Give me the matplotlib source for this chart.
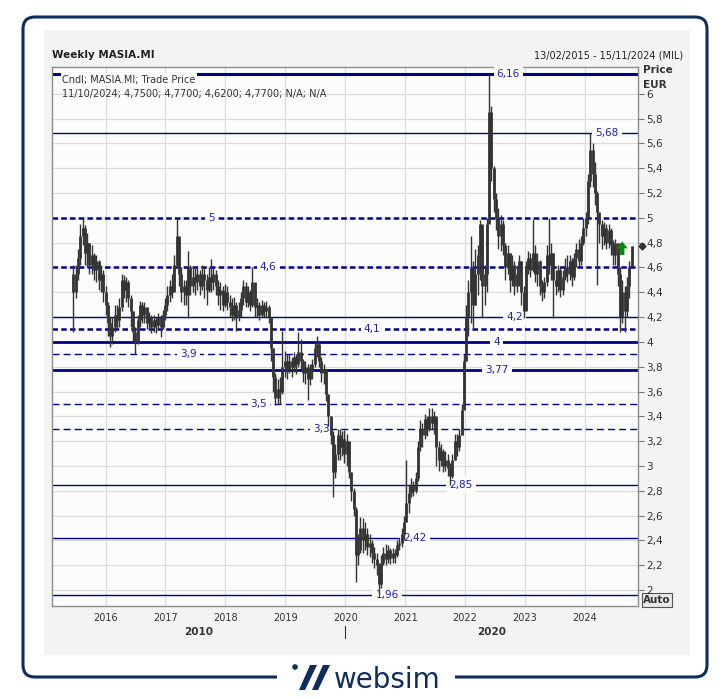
import numpy as np
import pandas as pd
import matplotlib
matplotlib.use("Agg")
import matplotlib.pyplot as plt
import matplotlib.transforms as mtransforms
from matplotlib.patches import FancyBboxPatch, Rectangle, Polygon, Circle

# ---------------------------------------------------------------------------
# DATA - MASIA.MI trade price (EUR), bars
# (one bar every two weeks, first bar 19/06/2015, last bar 11/10/2024)
# ---------------------------------------------------------------------------
first_bar = "2015-06-19"
first_open = 4.55

close_2015 = [4.40, 4.55, 4.68, 4.85, 4.92, 4.72, 4.80, 4.62, 4.70, 4.58, 4.65, 4.50, 4.55, 4.40]
high_2015 = [4.62, 4.62, 4.75, 4.95, 5.00, 4.94, 4.88, 4.80, 4.78, 4.72, 4.70, 4.66, 4.62, 4.58]
low_2015 = [4.08, 4.35, 4.50, 4.62, 4.78, 4.62, 4.60, 4.55, 4.55, 4.50, 4.48, 4.42, 4.40, 4.32]

close_2016 = [4.30, 4.15, 4.05, 4.12, 4.22, 4.18, 4.28, 4.50, 4.42, 4.48, 4.35, 4.25, 4.08,
              4.00, 4.18, 4.30, 4.22, 4.28, 4.15, 4.20, 4.12, 4.18, 4.14, 4.20, 4.12, 4.22]
high_2016 = [4.45, 4.32, 4.20, 4.20, 4.30, 4.30, 4.35, 4.55, 4.54, 4.52, 4.50, 4.38, 4.25,
             4.12, 4.22, 4.33, 4.32, 4.32, 4.28, 4.24, 4.22, 4.22, 4.20, 4.23, 4.22, 4.26]
low_2016 = [4.22, 4.05, 3.96, 3.98, 4.08, 4.10, 4.12, 4.25, 4.35, 4.32, 4.28, 4.12, 4.00,
            3.90, 3.98, 4.12, 4.15, 4.15, 4.10, 4.10, 4.07, 4.08, 4.07, 4.10, 4.04, 4.10]

close_2017 = [4.30, 4.38, 4.45, 4.40, 4.62, 4.85, 4.55, 4.40, 4.45, 4.38, 4.60, 4.45, 4.52,
              4.48, 4.55, 4.45, 4.55, 4.50, 4.42, 4.52, 4.48, 4.55, 4.45, 4.38, 4.42, 4.30]
high_2017 = [4.35, 4.45, 4.50, 4.55, 4.70, 5.01, 4.80, 4.60, 4.50, 4.50, 4.73, 4.62, 4.60,
             4.60, 4.60, 4.58, 4.62, 4.60, 4.55, 4.60, 4.67, 4.60, 4.58, 4.50, 4.48, 4.45]
low_2017 = [4.18, 4.25, 4.32, 4.35, 4.45, 4.60, 4.45, 4.32, 4.30, 4.30, 4.19, 4.38, 4.40,
            4.38, 4.42, 4.38, 4.42, 4.35, 4.30, 4.40, 4.40, 4.42, 4.38, 4.30, 4.26, 4.25]

close_2018 = [4.40, 4.32, 4.28, 4.22, 4.30, 4.20, 4.26, 4.35, 4.45, 4.32, 4.40, 4.30, 4.48,
              4.28, 4.30, 4.22, 4.30, 4.25, 4.28, 4.20, 3.95, 3.72, 3.55, 3.62, 3.60, 3.80]
high_2018 = [4.47, 4.45, 4.38, 4.35, 4.36, 4.32, 4.32, 4.40, 4.50, 4.48, 4.45, 4.42, 4.60,
             4.45, 4.35, 4.32, 4.34, 4.32, 4.33, 4.30, 4.20, 3.95, 3.75, 3.70, 3.72, 4.09]
low_2018 = [4.28, 4.26, 4.20, 4.17, 4.18, 4.09, 4.17, 4.20, 4.30, 4.28, 4.28, 4.25, 4.28,
            4.20, 4.20, 4.18, 4.20, 4.20, 4.20, 4.15, 3.85, 3.60, 3.49, 3.50, 3.50, 3.58]

close_2019 = [3.85, 3.78, 3.85, 3.80, 3.88, 3.82, 3.92, 3.85, 3.75, 3.80, 3.70, 3.78, 3.82,
              3.95, 3.98, 3.85, 3.75, 3.78, 3.58, 3.40, 3.25, 2.95, 3.10, 3.25, 3.15, 3.22]
high_2019 = [3.93, 3.90, 3.90, 3.88, 3.92, 3.90, 4.08, 4.02, 3.86, 3.85, 3.82, 3.82, 3.86,
             4.00, 4.05, 4.00, 3.88, 3.82, 3.78, 3.58, 3.40, 3.28, 3.18, 3.30, 3.30, 3.28]
low_2019 = [3.72, 3.70, 3.75, 3.72, 3.76, 3.74, 3.80, 3.78, 3.68, 3.66, 3.53, 3.65, 3.70,
            3.80, 3.88, 3.80, 3.68, 3.66, 3.52, 3.32, 3.18, 2.75, 2.90, 3.05, 3.05, 3.08]

close_2020 = [3.10, 3.20, 2.95, 2.80, 2.65, 2.28, 2.32, 2.50, 2.40, 2.45, 2.35, 2.38, 2.30,
              2.25, 2.20, 2.05, 2.22, 2.30, 2.25, 2.32, 2.26, 2.30, 2.28, 2.36, 2.38, 2.45]
high_2020 = [3.29, 3.26, 3.20, 2.95, 2.82, 2.67, 2.45, 2.59, 2.58, 2.55, 2.50, 2.45, 2.40,
             2.35, 2.30, 2.22, 2.28, 2.35, 2.37, 2.36, 2.34, 2.34, 2.33, 2.40, 2.42, 2.50]
low_2020 = [3.02, 3.00, 2.90, 2.72, 2.60, 2.065, 2.20, 2.30, 2.30, 2.32, 2.28, 2.27, 2.22,
            2.18, 2.12, 1.97, 2.02, 2.20, 2.20, 2.22, 2.21, 2.22, 2.22, 2.27, 2.32, 2.35]

close_2021 = [2.55, 2.70, 2.78, 2.85, 2.80, 2.90, 3.15, 3.30, 3.25, 3.38, 3.30, 3.40, 3.35,
              3.40, 3.15, 3.05, 3.12, 3.00, 3.05, 2.98, 2.92, 3.05, 3.20, 3.15, 3.25, 3.45]
high_2021 = [2.60, 3.05, 2.85, 2.90, 2.88, 2.95, 3.20, 3.37, 3.35, 3.42, 3.40, 3.47, 3.47,
             3.44, 3.38, 3.20, 3.18, 3.14, 3.12, 3.10, 3.02, 3.10, 3.26, 3.26, 3.30, 3.50]
low_2021 = [2.40, 2.55, 2.62, 2.75, 2.76, 2.78, 2.88, 3.12, 3.15, 3.22, 3.24, 3.28, 3.30,
            3.26, 3.00, 2.96, 3.00, 2.95, 2.96, 2.92, 2.85, 2.90, 3.05, 3.08, 3.12, 3.25]

close_2022 = [3.85, 4.20, 4.40, 4.60, 4.30, 4.55, 4.70, 4.95, 4.45, 4.55, 4.95, 5.85, 5.40, 5.15,
              5.00, 4.85, 4.95, 4.78, 4.60, 4.72, 4.50, 4.62, 4.45, 4.55, 4.65, 4.40, 4.25]
high_2022 = [3.90, 4.30, 4.50, 4.85, 4.65, 4.75, 4.78, 4.98, 4.90, 4.62, 5.00, 6.16, 5.90, 5.42,
             5.20, 5.08, 5.02, 4.98, 4.80, 4.78, 4.72, 4.70, 4.65, 4.60, 4.70, 4.65, 4.45]
low_2022 = [3.50, 3.85, 4.05, 4.15, 4.10, 4.30, 4.38, 4.50, 4.20, 4.30, 4.40, 5.00, 5.30, 5.05,
            4.90, 4.75, 4.73, 4.70, 4.50, 4.55, 4.40, 4.45, 4.38, 4.40, 4.45, 4.30, 4.19]

close_2023 = [4.60, 4.68, 4.58, 4.72, 4.55, 4.65, 4.45, 4.40, 4.48, 4.70, 4.62, 4.72, 4.50,
              4.45, 4.58, 4.42, 4.52, 4.60, 4.55, 4.65, 4.52, 4.68, 4.75, 4.65, 4.80, 4.92]
high_2023 = [4.65, 4.73, 4.72, 4.99, 4.78, 4.72, 4.66, 4.50, 4.52, 4.78, 5.00, 4.80, 4.72,
             4.58, 4.62, 4.60, 4.58, 4.68, 4.70, 4.70, 4.68, 4.72, 4.80, 4.83, 4.85, 5.00]
low_2023 = [4.30, 4.55, 4.52, 4.56, 4.48, 4.45, 4.38, 4.33, 4.35, 4.45, 4.55, 4.50, 4.19,
            4.38, 4.40, 4.36, 4.38, 4.50, 4.48, 4.50, 4.45, 4.50, 4.60, 4.60, 4.62, 4.78]

close_2024 = [5.00, 5.30, 5.55, 5.35, 5.20, 5.05, 4.95, 4.85, 4.92, 4.80, 4.90,
              4.78, 4.70, 4.80, 4.55, 4.20, 4.40, 4.25, 4.45, 4.60, 4.77]
high_2024 = [5.05, 5.35, 5.68, 5.60, 5.45, 5.22, 5.05, 4.98, 4.97, 4.95, 4.95,
             4.92, 4.82, 4.83, 4.80, 4.60, 4.50, 4.45, 4.52, 4.65, 4.77]
low_2024 = [4.85, 4.95, 5.25, 5.25, 5.10, 4.46, 4.80, 4.75, 4.78, 4.75, 4.76,
            4.70, 4.62, 4.62, 4.45, 4.08, 4.15, 4.08, 4.20, 4.35, 4.62]

# horizontal support / resistance levels drawn on the chart
levels = [6.16, 5.68, 5.0, 4.6, 4.2, 4.1, 4.0, 3.9, 3.77, 3.5, 3.3, 2.85, 2.42, 1.96]

# legend row of the last bar
last_date_text = "11/10/2024"
last_ohlc = [4.75, 4.77, 4.62, 4.77]

# green signal arrow
signal_date = 2024.62
signal_from, signal_to = 4.70, 4.81

# ---------------------------------------------------------------------------
# STYLE / LAYOUT
# ---------------------------------------------------------------------------
NAVY = "#00008b"
LABEL_BLUE = "#2020a8"
TXT = "#333333"
PLOT_BG = "#fcfcfc"
FRAME = "#0e2c5c"

thick_dash = (0, (2.2, 1.3))
thin_dash = (0, (5, 3))
level_styles = [("-", 2.2), ("-", 1.0), (thick_dash, 1.8), (thick_dash, 1.8), ("-", 1.0),
                (thick_dash, 1.8), ("-", 2.0), (thin_dash, 1.0), ("-", 2.0), (thin_dash, 1.0),
                (thin_dash, 1.0), ("-", 1.0), ("-", 1.0), ("-", 1.0)]
level_label_x = [2022.72, 2024.37, 2017.76, 2018.71, 2022.82, 2020.45, 2022.53,
                 2017.39, 2022.53, 2018.56, 2019.61, 2021.93, 2021.16, 2020.70]

close = np.array(close_2015 + close_2016 + close_2017 + close_2018 + close_2019
                 + close_2020 + close_2021 + close_2022 + close_2023 + close_2024)
high = np.array(high_2015 + high_2016 + high_2017 + high_2018 + high_2019
                + high_2020 + high_2021 + high_2022 + high_2023 + high_2024)
low = np.array(low_2015 + low_2016 + low_2017 + low_2018 + low_2019
               + low_2020 + low_2021 + low_2022 + low_2023 + low_2024)
opens = np.r_[first_open, close[:-1]]

dates = pd.date_range(first_bar, periods=len(close), freq="14D")
t = dates.year + (dates.dayofyear - 1) / np.where(dates.is_leap_year, 366, 365)

def fmt(v):
    return f"{v:g}".replace(".", ",")

# ---------------------------------------------------------------------------
# FIGURE + FRAME DECORATION (pixel coordinates)
# ---------------------------------------------------------------------------
W, H = 727, 699
fig = plt.figure(figsize=(W / 100, H / 100), dpi=100)
fig.patch.set_facecolor("white")

bg = fig.add_axes([0, 0, 1, 1])
bg.set_xlim(0, W)
bg.set_ylim(H, 0)
bg.axis("off")

bg.add_patch(FancyBboxPatch((23, 17), 684, 660, boxstyle="round,pad=0,rounding_size=12",
                            fc="white", ec=FRAME, lw=2.2, zorder=1))
bg.add_patch(Rectangle((44, 30), 646, 625, fc="#f3f3f3", ec="none", zorder=2))

# logo on the bottom border
bg.add_patch(Rectangle((277, 668), 178, 18, fc="white", ec="none", zorder=3))
bg.add_patch(Circle((295, 667), 2.8, fc=FRAME, ec="none", zorder=4))
bg.add_patch(Polygon([(299, 690), (305, 690), (317, 665), (310, 665)], closed=True,
                     fc=FRAME, ec="none", zorder=4))
bg.add_patch(Polygon([(312, 690), (318, 690), (330, 665), (323, 665)], closed=True,
                     fc=FRAME, ec="none", zorder=4))
bg.text(334, 688, "websim", fontsize=20, color=FRAME, ha="left", va="baseline", zorder=4)

bg.text(52, 55, "Weekly MASIA.MI", fontsize=7.5, fontweight="bold", color="#222", va="center")
bg.text(683, 55, "13/02/2015 - 15/11/2024 (MIL)", fontsize=7, color="#222",
        ha="right", va="center")
bg.text(643, 70, "Price", fontsize=7.5, fontweight="bold", color=TXT, va="center")
bg.text(643, 85, "EUR", fontsize=7.5, fontweight="bold", color=TXT, va="center")
bg.text(657, 600, "Auto", fontsize=7.5, fontweight="bold", color=TXT, ha="center", va="center",
        bbox=dict(boxstyle="square,pad=0.15", fc="#e9e9e9", ec="#555", lw=0.8))

# ---------------------------------------------------------------------------
# PRICE PANEL
# ---------------------------------------------------------------------------
ax = fig.add_axes([52 / W, 1 - 606 / H, 586 / W, 539 / H])
ax.set_facecolor(PLOT_BG)
ax.set_xlim(2015.107, 2024.884)
ax.set_ylim(1.871, 6.216)

years = list(range(2016, 2025))
ax.set_xticks(years, labels=[str(y) for y in years])
yt = np.round(np.arange(2.0, 6.01, 0.2), 1)
ax.set_yticks(yt, labels=[fmt(v) for v in yt])
for lbl in ax.get_yticklabels():
    if lbl.get_text() in ("2", "4", "6"):
        lbl.set_fontweight("bold")
ax.yaxis.tick_right()
ax.tick_params(axis="x", length=0, pad=5, labelsize=7, labelcolor=TXT)
ax.tick_params(axis="y", length=4, width=0.8, color="#777", labelsize=7.5,
               labelcolor=TXT, pad=2)
for sp in ax.spines.values():
    sp.set_color("#8c8c8c")
    sp.set_linewidth(1)
ax.set_axisbelow(True)
ax.grid(color="#dcdcdc", lw=0.9)

# levels with their labels
for v, (ls, lw), lx in zip(levels, level_styles, level_label_x):
    ax.axhline(v, color=NAVY, ls=ls, lw=lw, zorder=2)
    ax.text(lx, v, fmt(v), fontsize=7.5, color=LABEL_BLUE, ha="center", va="center", zorder=3,
            bbox=dict(boxstyle="square,pad=0.3", fc=PLOT_BG, ec="none"))

# candles
body_lo = np.minimum(opens, close)
body_hi = np.maximum(opens, close)
body_hi = np.maximum(body_hi, body_lo + 0.012)
ax.vlines(t, low, high, color="#333333", lw=1.0, zorder=4)
ax.vlines(t, body_lo, body_hi, color="#333333", lw=2.0, zorder=4)

# legend
ax.text(0.017, 0.976, "Cndl; MASIA.MI; Trade Price", transform=ax.transAxes, fontsize=7,
        color=TXT, va="center", zorder=6,
        bbox=dict(boxstyle="square,pad=0.15", fc=PLOT_BG, ec="none"))
ax.text(0.017, 0.950, last_date_text + "; " + "; ".join(f"{v:.4f}".replace(".", ",") for v in last_ohlc)
        + "; N/A; N/A", transform=ax.transAxes, fontsize=7, color=TXT, va="center", zorder=6)

# signal arrow and last price marker
ax.annotate("", xy=(signal_date, signal_to), xytext=(signal_date, signal_from),
            arrowprops=dict(arrowstyle="simple,head_length=0.5,head_width=0.8,tail_width=0.32",
                            color="#0a8a0a", lw=0, shrinkA=0, shrinkB=0), zorder=7)
tr_y = mtransforms.blended_transform_factory(ax.transAxes, ax.transData)
ax.plot([1.006], [close[-1]], marker="D", ms=3.5, color="#333", transform=tr_y,
        clip_on=False, zorder=7)

# decade labels under the year axis
tr_x = mtransforms.blended_transform_factory(ax.transData, ax.transAxes)
x0, x1 = ax.get_xlim()
ax.text((x0 + 2020) / 2, -0.048, "2010", transform=tr_x, fontsize=7.5, fontweight="bold",
        color=TXT, ha="center", va="center")
ax.text((2020 + x1) / 2, -0.048, "2020", transform=tr_x, fontsize=7.5, fontweight="bold",
        color=TXT, ha="center", va="center")
ax.plot([2020, 2020], [-0.037, -0.060], transform=tr_x, color=TXT, lw=0.8, clip_on=False)

fig.savefig("out.png", dpi=100)
